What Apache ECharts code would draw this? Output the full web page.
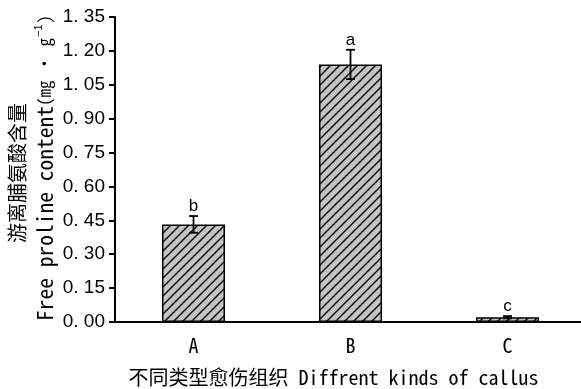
<!DOCTYPE html>
<html>
<head>
<meta charset="utf-8">
<script src="https://cdn.jsdelivr.net/npm/echarts@6/dist/echarts.min.js"></script>
<style>
html,body{margin:0;padding:0;background:#fff;}
#chart{width:581px;height:389px;}
</style>
</head>
<body>
<div id="chart"></div>
<script>
var categories = ['A', 'B', 'C'];
var values = [0.432, 1.140, 0.021];
var errors = [0.037, 0.065, 0.005];
var letters = ['b', 'a', 'c'];
var yTicks = {min: 0, max: 1.35, interval: 0.15};

var MONO = '"Noto Sans Mono CJK SC", "DejaVu Sans Mono", monospace';
var SANS = '"Liberation Sans", Arial, sans-serif';

var pc = document.createElement('canvas');
pc.width = 9; pc.height = 9;
var ctx = pc.getContext('2d');
ctx.fillStyle = '#c4c4c4';
ctx.fillRect(0, 0, 9, 9);
ctx.strokeStyle = '#000';
ctx.lineWidth = 1.4;
ctx.beginPath();
ctx.moveTo(-1, 10); ctx.lineTo(10, -1);
ctx.moveTo(-5, 5); ctx.lineTo(5, -5);
ctx.moveTo(4, 14); ctx.lineTo(14, 4);
ctx.stroke();

var chart = echarts.init(document.getElementById('chart'), null, {renderer: 'canvas'});

var errData = categories.map(function (c, i) { return [i, values[i], errors[i]]; });

chart.setOption({
  animation: false,
  backgroundColor: '#fff',
  grid: {left: 115, right: -5, top: 17, bottom: 67, containLabel: false, outerBoundsMode: 'none'},
  xAxis: {
    type: 'category',
    data: categories,
    axisLine: {lineStyle: {color: '#000', width: 2}},
    axisTick: {show: false},
    axisLabel: {color: '#000', fontSize: 20, fontFamily: MONO, margin: 13},
    name: '不同类型愈伤组织 Diffrent kinds of callus',
    nameLocation: 'middle',
    nameGap: 45,
    nameTextStyle: {color: '#000', fontSize: 20, fontFamily: MONO, padding: [0, 34, 0, 0]}
  },
  yAxis: {
    type: 'value',
    min: yTicks.min, max: yTicks.max, interval: yTicks.interval,
    splitLine: {show: false},
    axisLine: {show: true, lineStyle: {color: '#000', width: 2}},
    axisTick: {show: true, length: 6, lineStyle: {color: '#000', width: 2}},
    axisLabel: {
      color: '#000', fontSize: 19, fontFamily: SANS, margin: 10,
      formatter: function (v) { return v.toFixed(2).replace('.', '. '); }
    }
  },
  graphic: [
    {
      type: 'text', x: 17, y: 173, rotation: Math.PI / 2,
      style: {text: '游离脯氨酸含量', fontSize: 20, fontFamily: MONO, fill: '#000', align: 'center', verticalAlign: 'middle'}
    },
    {
      type: 'text', x: 45, y: 168, rotation: Math.PI / 2,
      style: {
        text: 'Free proline content{s|(mg · g}{sup|−1}{s|)}',
        fontSize: 21.5, fontFamily: MONO, fill: '#000', align: 'center', verticalAlign: 'middle',
        rich: {
          s: {fontSize: 17, fontFamily: MONO, fill: '#000'},
          sup: {fontSize: 11, fontFamily: SANS, fill: '#000', verticalAlign: 'top', padding: [0, 1, 12, 1]}
        }
      }
    }
  ],
  series: [
    {
      type: 'bar',
      data: values,
      barWidth: 63,
      itemStyle: {color: {image: pc, repeat: 'repeat'}, borderColor: '#000', borderWidth: 1.5},
      z: 2
    },
    {
      type: 'custom',
      data: errData,
      z: 3,
      renderItem: function (params, api) {
        var x = api.value(0), v = api.value(1), e = api.value(2);
        var top = api.coord([x, v + e]);
        var bot = api.coord([x, v - e]);
        var hw = 4.5;
        return {
          type: 'group',
          children: [
            {type: 'line', shape: {x1: top[0], y1: top[1], x2: bot[0], y2: bot[1]}, style: {stroke: '#000', lineWidth: 1.8}},
            {type: 'line', shape: {x1: top[0] - hw, y1: top[1], x2: top[0] + hw, y2: top[1]}, style: {stroke: '#000', lineWidth: 1.8}},
            {type: 'line', shape: {x1: bot[0] - hw, y1: bot[1], x2: bot[0] + hw, y2: bot[1]}, style: {stroke: '#000', lineWidth: 1.8}},
            {type: 'text', x: top[0], y: top[1] - 1, style: {text: letters[params.dataIndex], fontSize: 17, fontFamily: SANS, fill: '#000', align: 'center', verticalAlign: 'bottom'}}
          ]
        };
      }
    }
  ]
});
</script>
</body>
</html>
